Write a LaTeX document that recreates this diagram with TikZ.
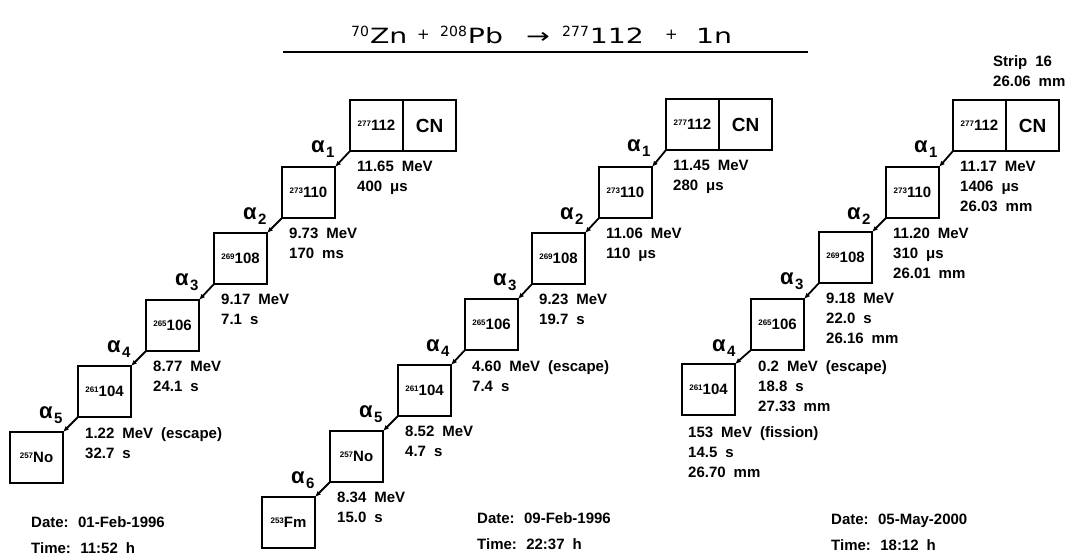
\documentclass[tikz,border=0pt]{standalone}
\usepackage{fontspec}
\setmainfont{Liberation Sans}
\newfontfamily\titlefont{DejaVu Sans}
\usetikzlibrary{arrows.meta,calc}
\newcommand{\nucl}[2]{{\fontsize{8}{8}\selectfont\raisebox{4.5pt}{#1}}#2}
\newcommand{\tsup}[1]{\raisebox{7pt}{\fontsize{14}{14}\selectfont #1}}
\newcommand{\tbig}[1]{\scalebox{1.35}[1]{\fontsize{21}{21}\selectfont #1}}
\newcommand{\tplus}{\raisebox{3.5pt}{\fontsize{15}{15}\selectfont +}}
\newcommand{\infofont}{\bfseries\fontsize{15}{20}\selectfont\spaceskip=8pt plus 1pt\relax}
\newcommand{\datefont}{\bfseries\fontsize{15}{26}\selectfont\spaceskip=8pt plus 1pt\relax}
\newcommand{\alf}[1]{α\kern1.5pt\raisebox{-5pt}{\fontsize{15}{15}\selectfont #1}}
\tikzset{
  nbox/.style={draw, line width=2.2pt, minimum width=53pt, minimum height=51pt,
    inner sep=0pt, outer sep=0pt, anchor=north west,
    font=\bfseries\fontsize{15}{15}\selectfont},
  cnbox/.style={nbox, font=\bfseries\fontsize{19}{19}\selectfont},
  arr/.style={line width=1.8pt, -{Latex[length=6pt,width=5pt]}},
  alab/.style={anchor=base west, inner sep=0pt, font=\bfseries\fontsize{22}{22}\selectfont},
  info/.style={anchor=north west, inner sep=0pt, align=left, font=\infofont},
  datebox/.style={anchor=north west, inner sep=0pt, align=left, font=\datefont},
  tpart/.style={anchor=base west, inner sep=0pt, font=\titlefont},
}
\begin{document}
\begin{tikzpicture}[x=1pt,y=-1pt]
\useasboundingbox (0,0) rectangle (1073,555);
% title
\node[tpart] (ti1) at (351,43) {\tsup{70}\kern1pt\tbig{Zn}};
\node[tpart] (ti2) at (417,43) {\tplus};
\node[tpart] (ti3) at (440,43) {\tsup{208}\kern1pt\tbig{Pb}};
\node[tpart] (ti4) at (526,43) {\tbig{→}};
\node[tpart] (ti5) at (562,43) {\tsup{277}\kern1pt\tbig{112}};
\node[tpart] (ti6) at (665,43) {\tplus};
\node[tpart] (ti7) at (696,43) {\tbig{1n}};
\coordinate (ulL) at (283,52);
\coordinate (ulR) at (808,52);
\draw[line width=1.6pt] (ulL) -- (ulR);

% ---------- chain 1 ----------
\node[nbox] (c1a) at (350,100) {\nucl{277}{112}};
\node[cnbox] (c1n) at (c1a.north east) {CN};
\node[nbox] (c1b) at (282,167) {\nucl{273}{110}};
\node[nbox] (c1c) at (214,233) {\nucl{269}{108}};
\node[nbox] (c1d) at (146,300) {\nucl{265}{106}};
\node[nbox] (c1e) at (78,366) {\nucl{261}{104}};
\node[nbox] (c1f) at (10,432) {\nucl{257}{No}};
\draw[arr] (c1a.south west) -- (c1b.north east);
\draw[arr] (c1b.south west) -- (c1c.north east);
\draw[arr] (c1c.south west) -- (c1d.north east);
\draw[arr] (c1d.south west) -- (c1e.north east);
\draw[arr] (c1e.south west) -- (c1f.north east);
\node[alab] (a11) at ($(c1a.south west)+(-39,1)$) {\alf{1}};
\node[alab] (a12) at ($(c1b.south west)+(-39,1)$) {\alf{2}};
\node[alab] (a13) at ($(c1c.south west)+(-39,1)$) {\alf{3}};
\node[alab] (a14) at ($(c1d.south west)+(-39,1)$) {\alf{4}};
\node[alab] (a15) at ($(c1e.south west)+(-39,1)$) {\alf{5}};
\node[info] (t11) at ($(c1a.south west)+(7,10)$) {11.65 MeV\\400 μs};
\node[info] (t12) at ($(c1b.south west)+(7,10)$) {9.73 MeV\\170 ms};
\node[info] (t13) at ($(c1c.south west)+(7,10)$) {9.17 MeV\\7.1 s};
\node[info] (t14) at ($(c1d.south west)+(7,10)$) {8.77 MeV\\24.1 s};
\node[info] (t15) at ($(c1e.south west)+(7,10)$) {1.22 MeV (escape)\\32.7 s};
\node[datebox] (d1) at (31,516) {Date: 01-Feb-1996\\Time: 11:52 h};

% ---------- chain 2 ----------
\node[nbox] (c2a) at (666,99) {\nucl{277}{112}};
\node[cnbox] (c2n) at (c2a.north east) {CN};
\node[nbox] (c2b) at (599,167) {\nucl{273}{110}};
\node[nbox] (c2c) at (532,233) {\nucl{269}{108}};
\node[nbox] (c2d) at (465,299) {\nucl{265}{106}};
\node[nbox] (c2e) at (398,365) {\nucl{261}{104}};
\node[nbox] (c2f) at (330,431) {\nucl{257}{No}};
\node[nbox] (c2g) at (262,497) {\nucl{253}{Fm}};
\draw[arr] (c2a.south west) -- (c2b.north east);
\draw[arr] (c2b.south west) -- (c2c.north east);
\draw[arr] (c2c.south west) -- (c2d.north east);
\draw[arr] (c2d.south west) -- (c2e.north east);
\draw[arr] (c2e.south west) -- (c2f.north east);
\draw[arr] (c2f.south west) -- (c2g.north east);
\node[alab] (a21) at ($(c2a.south west)+(-39,1)$) {\alf{1}};
\node[alab] (a22) at ($(c2b.south west)+(-39,1)$) {\alf{2}};
\node[alab] (a23) at ($(c2c.south west)+(-39,1)$) {\alf{3}};
\node[alab] (a24) at ($(c2d.south west)+(-39,1)$) {\alf{4}};
\node[alab] (a25) at ($(c2e.south west)+(-39,1)$) {\alf{5}};
\node[alab] (a26) at ($(c2f.south west)+(-39,1)$) {\alf{6}};
\node[info] (t21) at ($(c2a.south west)+(7,10)$) {11.45 MeV\\280 μs};
\node[info] (t22) at ($(c2b.south west)+(7,10)$) {11.06 MeV\\110 μs};
\node[info] (t23) at ($(c2c.south west)+(7,10)$) {9.23 MeV\\19.7 s};
\node[info] (t24) at ($(c2d.south west)+(7,10)$) {4.60 MeV (escape)\\7.4 s};
\node[info] (t25) at ($(c2e.south west)+(7,10)$) {8.52 MeV\\4.7 s};
\node[info] (t26) at ($(c2f.south west)+(7,10)$) {8.34 MeV\\15.0 s};
\node[datebox] (d2) at (477,512) {Date: 09-Feb-1996\\Time: 22:37 h};

% ---------- chain 3 ----------
\node[info] (strip) at (993,55) {Strip 16\\26.06 mm};
\node[nbox] (c3a) at (953,100) {\nucl{277}{112}};
\node[cnbox] (c3n) at (c3a.north east) {CN};
\node[nbox] (c3b) at (886,167) {\nucl{273}{110}};
\node[nbox] (c3c) at (819,232) {\nucl{269}{108}};
\node[nbox] (c3d) at (751,299) {\nucl{265}{106}};
\node[nbox] (c3e) at (682,364) {\nucl{261}{104}};
\draw[arr] (c3a.south west) -- (c3b.north east);
\draw[arr] (c3b.south west) -- (c3c.north east);
\draw[arr] (c3c.south west) -- (c3d.north east);
\draw[arr] (c3d.south west) -- (c3e.north east);
\node[alab] (a31) at ($(c3a.south west)+(-39,1)$) {\alf{1}};
\node[alab] (a32) at ($(c3b.south west)+(-39,1)$) {\alf{2}};
\node[alab] (a33) at ($(c3c.south west)+(-39,1)$) {\alf{3}};
\node[alab] (a34) at ($(c3d.south west)+(-39,1)$) {\alf{4}};
\node[info] (t31) at ($(c3a.south west)+(7,10)$) {11.17 MeV\\1406 μs\\26.03 mm};
\node[info] (t32) at ($(c3b.south west)+(7,10)$) {11.20 MeV\\310 μs\\26.01 mm};
\node[info] (t33) at ($(c3c.south west)+(7,10)$) {9.18 MeV\\22.0 s\\26.16 mm};
\node[info] (t34) at ($(c3d.south west)+(7,10)$) {0.2 MeV (escape)\\18.8 s\\27.33 mm};
\node[info] (t35) at ($(c3e.south west)+(6,11)$) {153 MeV (fission)\\14.5 s\\26.70 mm};
\node[datebox] (d3) at (831,514) {Date: 05-May-2000\\Time: 18:12 h};
\end{tikzpicture}
\end{document}
